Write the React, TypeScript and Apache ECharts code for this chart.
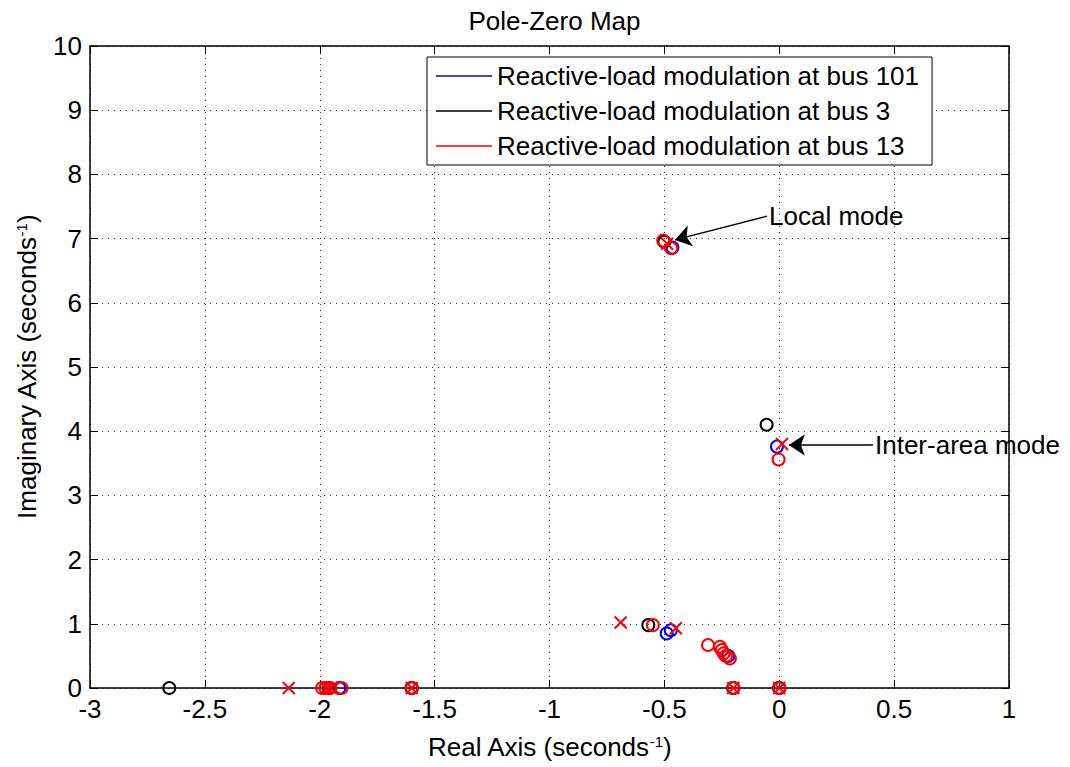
import React, { useEffect, useRef } from "react";
import * as echarts from "echarts";

const FONT = "'Liberation Sans', Arial, Helvetica, sans-serif";

const LEGEND_NAMES = [
  "Reactive-load modulation at bus 101",
  "Reactive-load modulation at bus 3",
  "Reactive-load modulation at bus 13",
];
const COLORS = ["#0000ff", "#000000", "#ff0000"];

// Poles (x markers) – identical for every input location, so the last (red) set is the visible one
const POLES: number[][] = [
  [-2.135, 0], [-1.97, 0], [-1.95, 0], [-1.6, 0], [-0.69, 1.02], [-0.45, 0.93],
  [-0.2, 0], [0, 0], [0.012, 3.8], [-0.488, 6.92],
];

// Zeros (o markers) for each input location
const ZEROS_BUS101: number[][] = [
  [-1.915, 0], [-1.6, 0], [-0.49, 0.85], [-0.472, 0.9], [-0.222, 0.5],
  [-0.2, 0], [0, 0], [-0.01, 3.76], [-0.465, 6.86],
];
const ZEROS_BUS3: number[][] = [
  [-2.655, 0], [-1.96, 0], [-1.6, 0], [-0.57, 0.98], [-0.2, 0], [0, 0],
  [-0.055, 4.1], [-0.5, 6.95],
];
const ZEROS_BUS13: number[][] = [
  [-1.99, 0], [-1.975, 0], [-1.955, 0], [-1.905, 0], [-1.6, 0], [-0.55, 0.98],
  [-0.31, 0.67], [-0.258, 0.64], [-0.25, 0.59], [-0.242, 0.54], [-0.232, 0.5],
  [-0.215, 0.46], [-0.2, 0], [0, 0], [-0.003, 3.56], [-0.505, 6.97], [-0.47, 6.85],
];
const ZEROS = [ZEROS_BUS101, ZEROS_BUS3, ZEROS_BUS13];

// Annotations
const ANNOT_TEXT = ["Local mode", "Inter-area mode"];
const ANNOT_FROM: number[][] = [[-0.053, 7.35], [0.408, 3.785]];
const ANNOT_TO: number[][] = [[-0.454, 6.98], [0.042, 3.785]];

const X_RANGE = [-3, 1];
const X_STEP = 0.5;
const Y_RANGE = [0, 10];
const Y_STEP = 1;

const CROSS = "path://M0,0L10,10M10,0L0,10";

export default function App() {
  const ref = useRef<HTMLDivElement>(null);
  useEffect(() => {
    document.body.style.margin = "0";
    if (!ref.current) return;
    const chart = echarts.init(ref.current, undefined, { renderer: "svg" });

    const tickStyle = { show: true, inside: true, length: 8, lineStyle: { color: "#000", width: 1 } };
    const axisLine = { show: true, onZero: false, lineStyle: { color: "#000", width: 1.5 } };
    const grid = { show: true, lineStyle: { color: "#333", width: 1, type: [1, 5] as any } };
    const labelStyle = { color: "#000", fontSize: 26, fontFamily: FONT };
    const nameStyle = {
      color: "#000",
      fontSize: 26,
      fontFamily: FONT,
      rich: { sup: { fontSize: 15, fontFamily: FONT, color: "#000", verticalAlign: "top" } },
    };

    const series: any[] = [];
    // dummy series providing the legend lines
    LEGEND_NAMES.forEach((n, i) => {
      series.push({ name: n, type: "line", data: [], color: COLORS[i], lineStyle: { color: COLORS[i] } });
    });
    LEGEND_NAMES.forEach((n, i) => {
      series.push({
        name: n + " zeros",
        type: "scatter",
        data: ZEROS[i],
        symbol: "circle",
        symbolSize: 12,
        clip: false,
        itemStyle: { color: "rgba(0,0,0,0)", borderColor: COLORS[i], borderWidth: 2, opacity: 1 },
        z: 3 + i * 2,
      });
    });
    // poles coincide for all three inputs; the red set (drawn last) is the one seen
    series.push({
      name: LEGEND_NAMES[2] + " poles",
      type: "scatter",
      data: POLES,
      symbol: CROSS,
      symbolSize: 12,
      clip: false,
      itemStyle: { color: "rgba(0,0,0,0)", borderColor: COLORS[2], borderWidth: 2, opacity: 1 },
      z: 9,
    });
    series.push({
      name: "annotation arrows",
      type: "lines",
      coordinateSystem: "cartesian2d",
      symbol: ["none", "arrow"],
      symbolSize: 16,
      lineStyle: { color: "#000", width: 1.5, opacity: 1, curveness: 0 },
      data: ANNOT_FROM.map((f, i) => ({ coords: [f, ANNOT_TO[i]] })),
      z: 10,
      silent: true,
    });
    series.push({
      name: "annotation text",
      type: "scatter",
      symbolSize: 0,
      clip: false,
      data: ANNOT_FROM.map((f, i) => ({ value: f, label: { formatter: ANNOT_TEXT[i] } })),
      label: { show: true, position: "right", distance: 2, color: "#000", opacity: 1, fontSize: 26, fontFamily: FONT },
      itemStyle: { color: "rgba(0,0,0,0)", opacity: 1 },
      z: 10,
      silent: true,
    });

    chart.setOption({
      animation: false,
      backgroundColor: "#fff",
      title: {
        text: "Pole-Zero Map",
        left: 549.5,
        textAlign: "center",
        top: 3,
        textStyle: { color: "#000", fontSize: 26, fontWeight: "normal", fontFamily: FONT },
      },
      legend: {
        orient: "vertical",
        left: 427,
        top: 57,
        padding: [6, 13, 6, 9],
        itemGap: 9,
        itemWidth: 56,
        itemHeight: 1.5,
        backgroundColor: "#fff",
        borderColor: "#000",
        borderWidth: 1,
        textStyle: { color: "#000", fontSize: 26, fontFamily: FONT },
        data: LEGEND_NAMES.map((n, i) => ({ name: n, icon: "rect", itemStyle: { color: COLORS[i], borderWidth: 0 } })),
      },
      grid: { left: 90, right: 61, top: 46, bottom: 79, containLabel: false },
      xAxis: [
        {
          type: "value",
          min: X_RANGE[0],
          max: X_RANGE[1],
          interval: X_STEP,
          position: "bottom",
          name: "Real Axis (seconds{sup|-1})",
          nameLocation: "middle",
          nameGap: 46,
          nameTextStyle: nameStyle,
          axisLine,
          axisTick: tickStyle,
          axisLabel: { ...labelStyle, margin: 8 },
          splitLine: grid,
        },
        {
          type: "value",
          min: X_RANGE[0],
          max: X_RANGE[1],
          interval: X_STEP,
          position: "top",
          axisLine,
          axisTick: tickStyle,
          axisLabel: { show: false },
          splitLine: { show: false },
        },
      ],
      yAxis: [
        {
          type: "value",
          min: Y_RANGE[0],
          max: Y_RANGE[1],
          interval: Y_STEP,
          position: "left",
          name: "Imaginary Axis (seconds{sup|-1})",
          nameLocation: "middle",
          nameGap: 50,
          nameTextStyle: nameStyle,
          axisLine,
          axisTick: tickStyle,
          axisLabel: { ...labelStyle, margin: 8 },
          splitLine: grid,
        },
        {
          type: "value",
          min: Y_RANGE[0],
          max: Y_RANGE[1],
          interval: Y_STEP,
          position: "right",
          axisLine,
          axisTick: tickStyle,
          axisLabel: { show: false },
          splitLine: { show: false },
        },
      ],
      series,
    });
    return () => chart.dispose();
  }, []);
  return <div ref={ref} style={{ width: 1070, height: 767 }} />;
}
